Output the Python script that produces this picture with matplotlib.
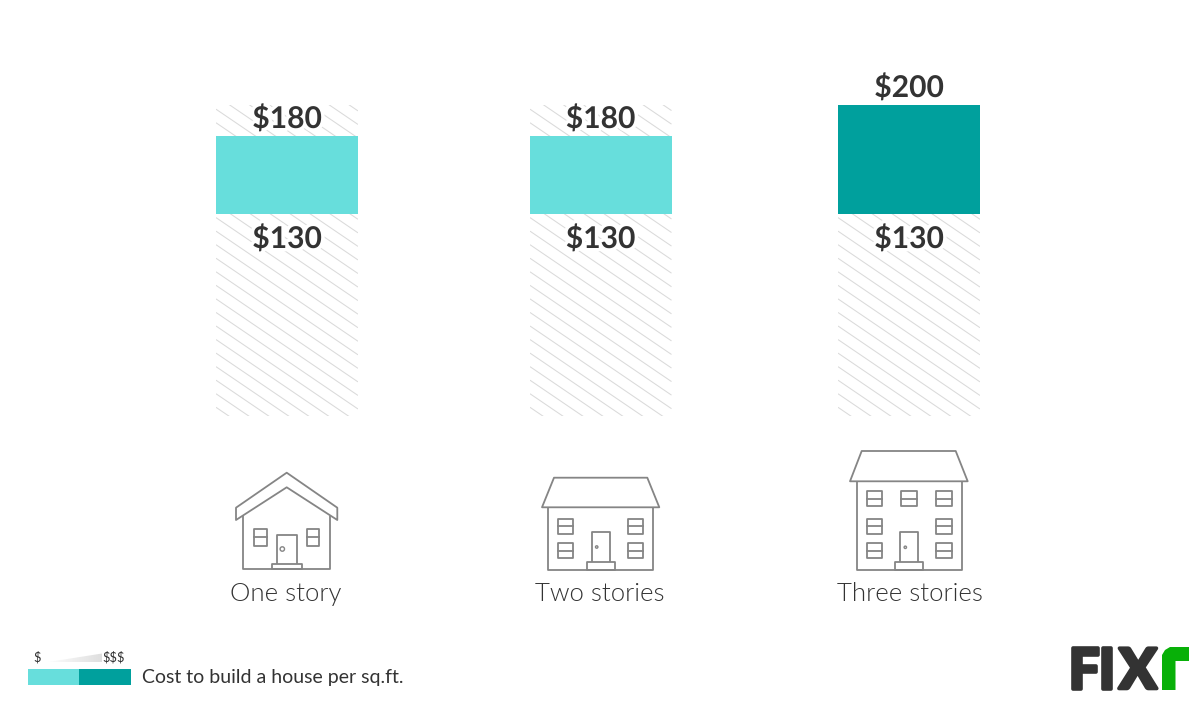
# Cost to build a house per sq.ft. by number of stories

import numpy as np
import matplotlib
matplotlib.use("Agg")
import matplotlib.pyplot as plt
import matplotlib.patheffects as pe
from matplotlib.collections import LineCollection
from matplotlib.patches import Circle, Polygon, Rectangle

categories = ["One story", "Two stories", "Three stories"]
low_cost = [130, 130, 130]
high_cost = [180, 180, 200]
scale_max = 200
legend_text = "Cost to build a house per sq.ft."
scale_labels = ["$", "$$$"]

LIGHT = "#67dedc"
DARK = "#00a09d"
INK = "#333333"
HOUSE = "#858585"
HATCH = "#dadada"

W, H = 1200, 702
bar_left = [216, 530, 838]
bar_width = [142, 141.5, 142]
label_x = [287, 600.5, 909]
caption_x = [286, 600, 909.5]

plt.rcParams["font.family"] = ["Lato", "DejaVu Sans"]

fig = plt.figure(figsize=(W / 100, H / 100), dpi=100)

# hatch layer, behind the bars
bg = fig.add_axes([0, 0, 1, 1], zorder=1)
bg.set_xlim(0, W)
bg.set_ylim(H, 0)
bg.axis("off")

# bars, value axis 0..200 sits between pixel rows 415.5 and 105
ax = fig.add_axes([0, 1 - 415.5 / H, 1, (415.5 - 105) / H], zorder=2)
ax.set_xlim(0, W)
ax.set_ylim(0, scale_max)
ax.axis("off")

# overlay in pixel coordinates for labels and drawings
px = fig.add_axes([0, 0, 1, 1], zorder=3)
px.set_xlim(0, W)
px.set_ylim(H, 0)
px.axis("off")


def hatch_lines(x0, x1, y0, y1):
    slope = 0.68
    gap = 13.55
    segs = []
    for c in np.arange(407.3 - 60 * gap, y1 + gap, gap):
        segs.append([(x0, c), (x1, c + slope * (x1 - x0))])
    lines = LineCollection(segs, colors=HATCH, linewidths=0.75)
    bg.add_collection(lines)
    lines.set_clip_path(Rectangle((x0, y0), x1 - x0, y1 - y0, transform=bg.transData))


halo = [pe.withStroke(linewidth=5, foreground="white")]
for i, name in enumerate(categories):
    hatch_lines(bar_left[i], bar_left[i] + bar_width[i], 105, 416)
    color = DARK if high_cost[i] > 180 else LIGHT
    ax.bar(bar_left[i], high_cost[i] - low_cost[i], bottom=low_cost[i], width=bar_width[i],
           align="edge", color=color, linewidth=0)
    top_y = 87.5 if high_cost[i] > 180 else 118.5
    px.text(label_x[i], top_y, "$%d" % high_cost[i], ha="center", va="center", fontsize=21.6,
            fontweight="bold", color=INK, path_effects=halo, zorder=5)
    px.text(label_x[i], 238.5, "$%d" % low_cost[i], ha="center", va="center", fontsize=21.6,
            fontweight="bold", color=INK, path_effects=halo, zorder=5)
    px.text(caption_x[i], 601, name, ha="center", va="baseline", fontsize=18.5,
            fontweight=300, color=INK)


def outline(points, closed=True):
    px.add_patch(Polygon(points, closed=closed, fill=False, edgecolor=HOUSE, linewidth=1.3,
                         joinstyle="round", zorder=4))


def window(x0, x1, y0, y1):
    outline([(x0, y0), (x1, y0), (x1, y1), (x0, y1)])
    px.plot([x0, x1], [(y0 + y1) / 2] * 2, color=HOUSE, lw=1.3)


def door(x0, x1, y0, y1, sx0, sx1, bottom, knob, r):
    outline([(x0, y1), (x0, y0), (x1, y0), (x1, y1)], closed=False)
    outline([(sx0, y1), (sx1, y1), (sx1, bottom), (sx0, bottom)])
    px.add_patch(Circle(knob, r, fill=r > 2, facecolor="white", edgecolor=HOUSE, linewidth=1))


# one story
outline([(286.7, 472.7), (236, 507.7), (236, 520), (286.7, 487.3), (337.3, 520), (337.3, 507.7)])
outline([(243.3, 516), (243.3, 569.3), (330, 569.3), (330, 516)], closed=False)
window(254.3, 266.7, 528.7, 546)
window(307, 319.3, 528.7, 546)
door(276.7, 296.7, 534.7, 564, 271.7, 302, 569.3, (282.3, 549), 2.2)

# two stories
outline([(554, 477.7), (647.3, 477.7), (659.3, 507.3), (542, 507.3)])
outline([(548.3, 507.3), (548.3, 570), (652.7, 570), (652.7, 507.3)], closed=False)
for wx in [558.3, 627.7]:
    for wy in [518.7, 543.3]:
        window(wx, wx + 15, wy, wy + 15)
door(591.7, 609.7, 532.3, 562.3, 587, 614.7, 570, (596.7, 547), 1.2)

# three stories
outline([(861.7, 451), (955.7, 451), (967.7, 481.3), (850, 481.3)])
outline([(856.7, 481.3), (856.7, 569.5), (961.7, 569.5), (961.7, 481.3)], closed=False)
for wx in [866.7, 936.3]:
    for wy in [491, 518.7, 543.3]:
        window(wx, wx + 15.5, wy, wy + 15)
window(901, 916.5, 491, 506)
door(900.3, 918.3, 532, 562.3, 895, 923.3, 569.5, (905.3, 547.3), 1.2)

# legend
px.add_patch(Rectangle((27.5, 669), 51.5, 16, color=LIGHT, linewidth=0))
px.add_patch(Rectangle((79, 669), 52, 16, color=DARK, linewidth=0))
wedge = px.imshow(np.linspace(0, 1, 64).reshape(1, -1), extent=(45, 102, 662.5, 653.5),
                  cmap=matplotlib.colors.LinearSegmentedColormap.from_list("w", ["#ffffff", "#dfdfdf"]),
                  aspect="auto", zorder=2)
wedge.set_clip_path(Polygon([(45, 662.5), (102, 653.5), (102, 662.5)], transform=px.transData))
px.set_xlim(0, W)
px.set_ylim(H, 0)
px.text(37.5, 657, scale_labels[0], ha="center", va="center", fontsize=9.3, color=INK)
px.text(113.5, 657, scale_labels[1], ha="center", va="center", fontsize=9.3, color=INK)
px.text(142, 683, legend_text, ha="left", va="baseline", fontsize=14, color=INK)

# logo, letters placed one by one to keep the tight spacing
thick = [pe.withStroke(linewidth=2.6, foreground="#333333")]
for letter, lx in zip("FIX", [1068.5, 1098.5, 1119]):
    px.text(lx, 688.5, letter, ha="left", va="baseline", fontsize=40, fontweight=900, color="#333333",
            path_effects=thick)
px.add_patch(Polygon([(1162, 690), (1162, 655), (1165, 650), (1170, 647), (1189, 647), (1189, 661),
                      (1175.5, 661), (1175.5, 690)], closed=True, color="#08b008", linewidth=0))

fig.savefig("out.png", dpi=100)
